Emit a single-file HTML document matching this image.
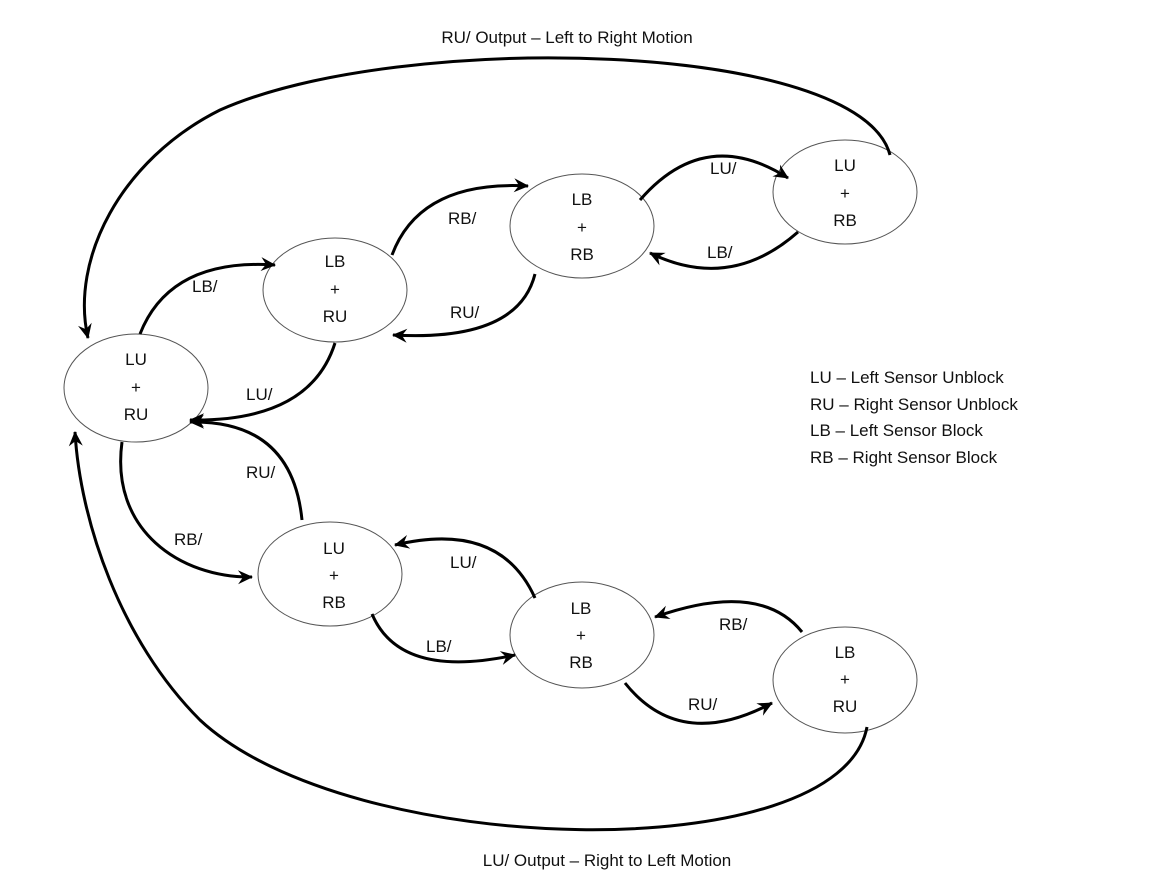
<!DOCTYPE html>
<html><head><style>
html,body{margin:0;padding:0;background:#fff;}
svg{display:block;}
text{font-family:"Liberation Sans",sans-serif;font-size:17px;fill:#111;}
</style></head><body>
<svg width="1176" height="880" viewBox="0 0 1176 880" xmlns="http://www.w3.org/2000/svg">
<defs>
<marker id="a" viewBox="-2 -9 20 18" refX="14" refY="0" markerWidth="20" markerHeight="18" orient="auto" markerUnits="userSpaceOnUse" overflow="visible">
<path d="M0,-7 L15,0 L0,7 L5,0 Z" fill="#000"/>
</marker>
</defs>
<g fill="#fff" stroke="#555" stroke-width="1">
<ellipse cx="136" cy="388" rx="72" ry="54"/>
<ellipse cx="335" cy="290" rx="72" ry="52"/>
<ellipse cx="582" cy="226" rx="72" ry="52"/>
<ellipse cx="845" cy="192" rx="72" ry="52"/>
<ellipse cx="330" cy="574" rx="72" ry="52"/>
<ellipse cx="582" cy="635" rx="72" ry="53"/>
<ellipse cx="845" cy="680" rx="72" ry="53"/>
</g>
<g fill="none" stroke="#000" stroke-width="3" marker-end="url(#a)">
<path d="M140,334 Q170,258 275,265"/>
<path d="M335,343 Q310,422 190,420"/>
<path d="M392,255 Q420,180 528,186"/>
<path d="M535,274 Q518,342 393,335"/>
<path d="M640,200 Q705,125 788,178"/>
<path d="M798,232 Q730,292 650,253"/>
<path d="M890,155 C860,40 400,30 220,110 C120,160 70,260 88,338"/>
<path d="M122,442 C110,530 180,578 252,577"/>
<path d="M302,520 Q292,420 190,422"/>
<path d="M535,598 Q500,520 395,545"/>
<path d="M372,614 Q400,680 515,655"/>
<path d="M802,632 Q760,580 655,617"/>
<path d="M625,683 Q680,752 772,703"/>
<path d="M867,727 C840,870 350,860 200,720 C120,640 80,520 75,432"/>
</g>
<g text-anchor="middle">
<text x="136" y="365">LU</text><text x="136" y="393">+</text><text x="136" y="420">RU</text>
<text x="335" y="267">LB</text><text x="335" y="295">+</text><text x="335" y="322">RU</text>
<text x="582" y="205">LB</text><text x="582" y="233">+</text><text x="582" y="260">RB</text>
<text x="845" y="171">LU</text><text x="845" y="199">+</text><text x="845" y="226">RB</text>
<text x="334" y="554">LU</text><text x="334" y="581">+</text><text x="334" y="608">RB</text>
<text x="581" y="614">LB</text><text x="581" y="641">+</text><text x="581" y="668">RB</text>
<text x="845" y="658">LB</text><text x="845" y="685">+</text><text x="845" y="712">RU</text>
<text x="567" y="43">RU/ Output – Left to Right Motion</text>
<text x="607" y="866">LU/ Output – Right to Left Motion</text>
</g>
<g>
<text x="192" y="292">LB/</text>
<text x="246" y="400">LU/</text>
<text x="448" y="224">RB/</text>
<text x="450" y="318">RU/</text>
<text x="710" y="174">LU/</text>
<text x="707" y="258">LB/</text>
<text x="246" y="478">RU/</text>
<text x="174" y="545">RB/</text>
<text x="450" y="568">LU/</text>
<text x="426" y="652">LB/</text>
<text x="719" y="630">RB/</text>
<text x="688" y="710">RU/</text>
<text x="810" y="383">LU – Left Sensor Unblock</text>
<text x="810" y="410">RU – Right Sensor Unblock</text>
<text x="810" y="436">LB – Left Sensor Block</text>
<text x="810" y="463">RB – Right Sensor Block</text>
</g>
</svg>
</body></html>
